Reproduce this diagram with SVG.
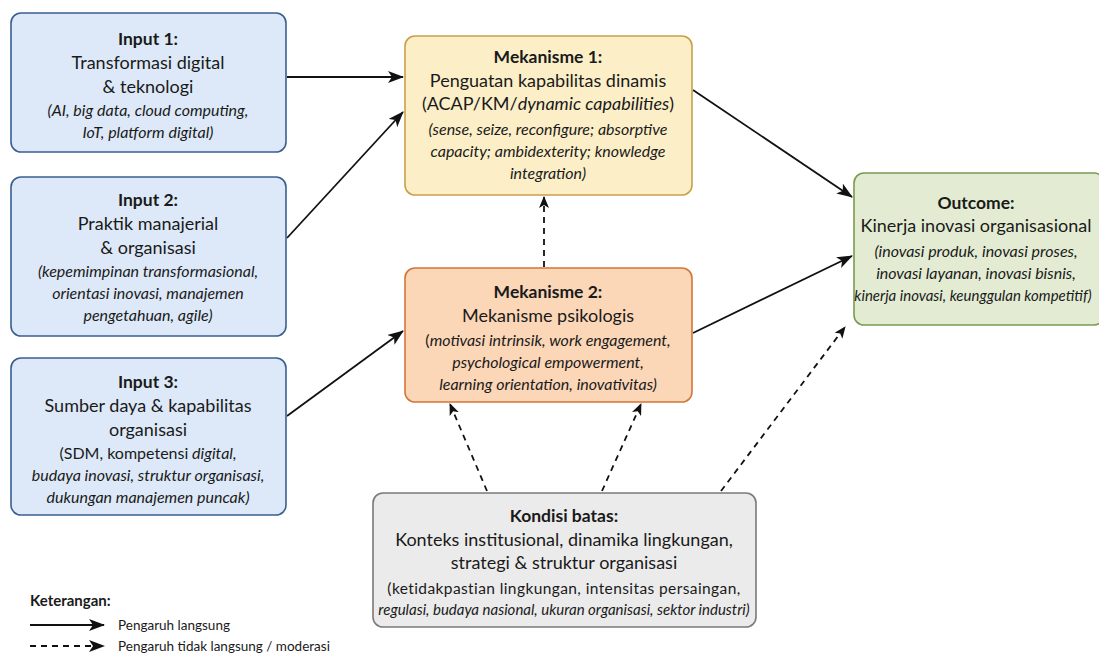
<svg xmlns="http://www.w3.org/2000/svg" width="1099" height="655" viewBox="0 0 1099 655">
<defs>
<marker id="ah" markerUnits="userSpaceOnUse" markerWidth="16" markerHeight="12" refX="15" refY="6" orient="auto">
<path d="M0,0 L16,6 L0,12 L4,6 Z" fill="#111"/>
</marker>
<marker id="ahs" markerUnits="userSpaceOnUse" markerWidth="12" markerHeight="10" refX="11" refY="5" orient="auto">
<path d="M0,0 L12,5 L0,10 L3,5 Z" fill="#111"/>
</marker>
<style>
text{font-family:Lato,"Noto Sans","Liberation Sans",sans-serif;fill:#1a1a1a;text-anchor:middle}
.t{font-weight:bold;font-size:17.5px}
.m{font-size:18px}
.s{font-style:italic;font-size:16px}
.u{font-size:15.5px;letter-spacing:0.4px}
.box{stroke-width:1.6}
.in{fill:#dde9f8;stroke:#3a5f8f}
.m1{fill:#fcefc8;stroke:#c9a04a}
.m2{fill:#fbd6b7;stroke:#d2773a}
.oc{fill:#e3ecd3;stroke:#7a9a52}
.kb{fill:#ebebeb;stroke:#7a7a7a}
.c{stroke:#111;stroke-width:1.8;fill:none}
.d{stroke-dasharray:6 5}
.lg{text-anchor:start;font-size:13.5px}
</style>
</defs>
<rect width="1099" height="655" fill="#ffffff"/>
<g id="connectors">
<line class="c" x1="287" y1="77" x2="403" y2="77" marker-end="url(#ah)"/>
<line class="c" x1="287" y1="238" x2="403" y2="112" marker-end="url(#ah)"/>
<line class="c" x1="287" y1="416" x2="403" y2="331" marker-end="url(#ah)"/>
<line class="c" x1="693" y1="90" x2="852" y2="197" marker-end="url(#ah)"/>
<line class="c" x1="693" y1="333" x2="852" y2="256" marker-end="url(#ah)"/>
<line class="c d" x1="544" y1="267" x2="544" y2="197" marker-end="url(#ahs)"/>
<line class="c d" x1="487" y1="491" x2="450" y2="404" marker-end="url(#ahs)"/>
<line class="c d" x1="602" y1="491" x2="641" y2="404" marker-end="url(#ahs)"/>
<line class="c d" x1="721" y1="491" x2="845" y2="327" marker-end="url(#ahs)"/>
</g>
<g id="input1">
<rect class="box in" x="11" y="13" width="275" height="139" rx="10"/>
<text class="t" x="148" y="45">Input 1:</text>
<text class="m" x="148" y="69">Transformasi digital</text>
<text class="m" x="148" y="93">&amp; teknologi</text>
<text class="s" x="148" y="116">(AI, big data, cloud computing,</text>
<text class="s" x="148" y="138">IoT, platform digital)</text>
</g>
<g id="input2">
<rect class="box in" x="11" y="177" width="275" height="159" rx="10"/>
<text class="t" x="148" y="206">Input 2:</text>
<text class="m" x="148" y="230">Praktik manajerial</text>
<text class="m" x="148" y="254">&amp; organisasi</text>
<text class="s" x="148" y="277">(kepemimpinan transformasional,</text>
<text class="s" x="148" y="299">orientasi inovasi, manajemen</text>
<text class="s" x="148" y="321">pengetahuan, agile)</text>
</g>
<g id="input3">
<rect class="box in" x="11" y="358" width="275" height="157" rx="10"/>
<text class="t" x="148" y="388">Input 3:</text>
<text class="m" x="148" y="412">Sumber daya &amp; kapabilitas</text>
<text class="m" x="148" y="436">organisasi</text>
<text class="s" x="148" y="459"><tspan font-style="normal">(SDM, kompetensi</tspan> digital,</text>
<text class="s" x="148" y="481">budaya inovasi, struktur organisasi,</text>
<text class="s" x="148" y="503">dukungan manajemen puncak)</text>
</g>
<g id="mekanisme1">
<rect class="box m1" x="405" y="36" width="287" height="159" rx="10"/>
<text class="t" x="548" y="63">Mekanisme 1:</text>
<text class="m" x="548" y="87">Penguatan kapabilitas dinamis</text>
<text class="m" x="548" y="110">(ACAP/KM/<tspan font-style="italic">dynamic capabilities</tspan>)</text>
<text class="s" x="548" y="135">(sense, seize, reconfigure; absorptive</text>
<text class="s" x="548" y="157">capacity; ambidexterity; knowledge</text>
<text class="s" x="548" y="179">integration)</text>
</g>
<g id="mekanisme2">
<rect class="box m2" x="405" y="268" width="287" height="134" rx="10"/>
<text class="t" x="548" y="298">Mekanisme 2:</text>
<text class="m" x="548" y="322">Mekanisme psikologis</text>
<text class="s" x="548" y="346"><tspan font-style="normal">(</tspan>motivasi intrinsik, work engagement,</text>
<text class="s" x="548" y="368">psychological empowerment,</text>
<text class="s" x="548" y="390">learning orientation, inovativitas)</text>
</g>
<g id="outcome">
<rect class="box oc" x="854" y="173" width="250" height="152" rx="10"/>
<text class="t" x="976" y="209">Outcome:</text>
<text class="m" x="976" y="232">Kinerja inovasi organisasional</text>
<text class="s" x="976" y="257">(inovasi produk, inovasi proses,</text>
<text class="s" x="976" y="279">inovasi layanan, inovasi bisnis,</text>
<text class="s" x="973" y="301" style="font-size:15px">kinerja inovasi, keunggulan kompetitif)</text>
</g>
<g id="kondisi">
<rect class="box kb" x="373" y="493" width="383" height="134" rx="10"/>
<text class="t" x="564" y="522">Kondisi batas:</text>
<text class="m" x="564" y="546">Konteks institusional, dinamika lingkungan,</text>
<text class="m" x="564" y="569">strategi &amp; struktur organisasi</text>
<text class="u" x="564" y="594">(ketidakpastian lingkungan, intensitas persaingan,</text>
<text class="s" x="564" y="615" style="font-size:15px">regulasi, budaya nasional, ukuran organisasi, sektor industri)</text>
</g>
<g id="legend">
<text class="t" x="30" y="606" style="text-anchor:start;font-size:15px">Keterangan:</text>
<line class="c" x1="30" y1="625" x2="104" y2="625" marker-end="url(#ah)"/>
<text class="lg" x="118" y="630">Pengaruh langsung</text>
<line class="c d" x1="30" y1="646" x2="104" y2="646" marker-end="url(#ah)"/>
<text class="lg" x="118" y="651">Pengaruh tidak langsung / moderasi</text>
</g>
</svg>
